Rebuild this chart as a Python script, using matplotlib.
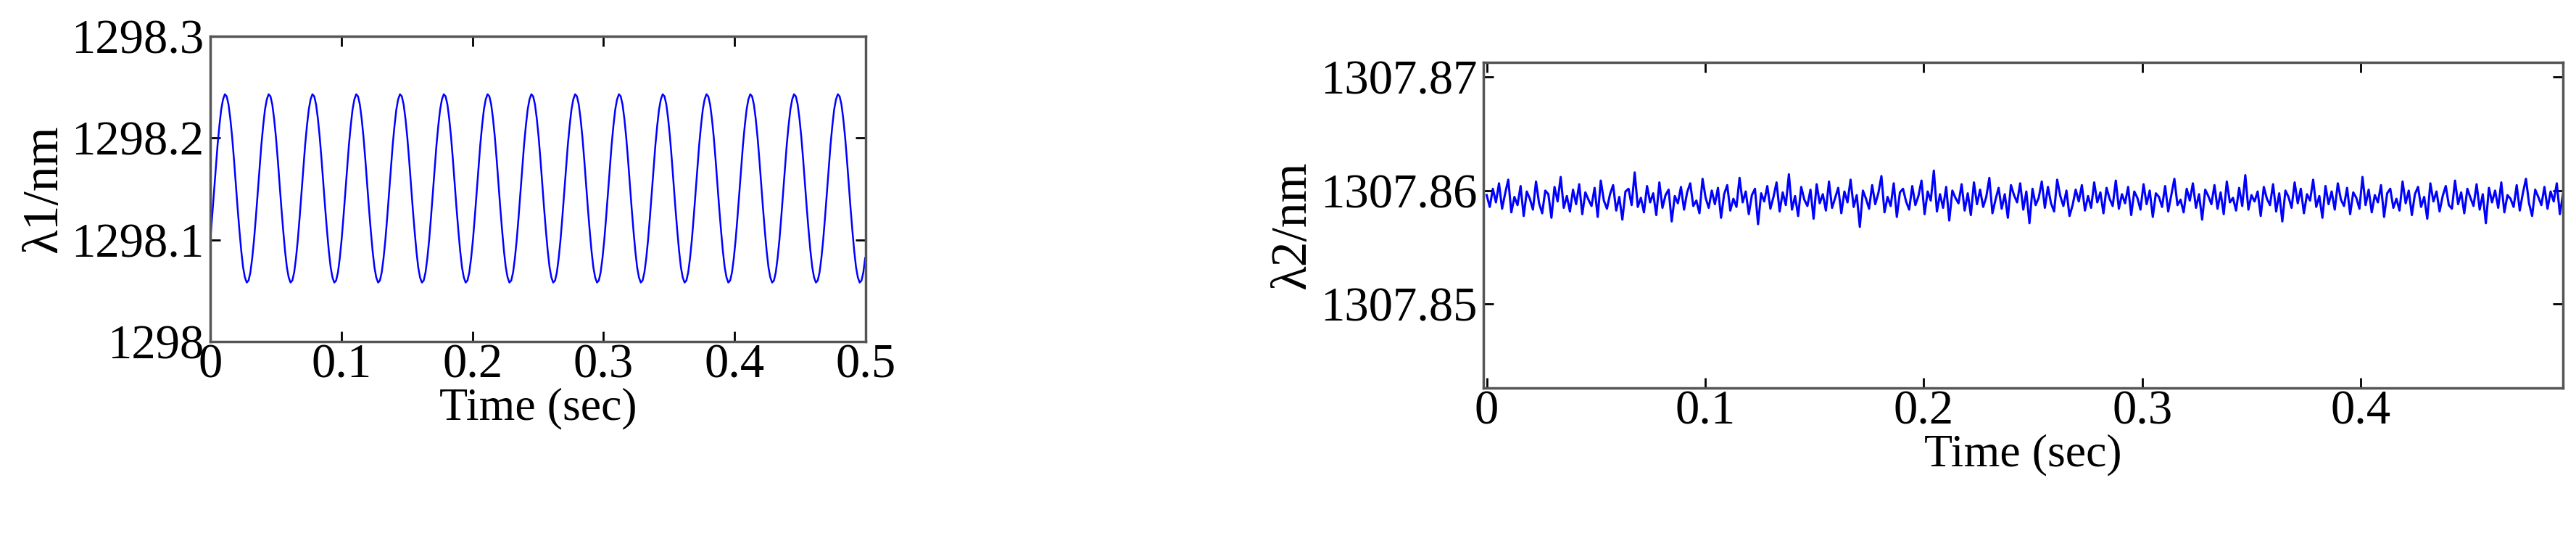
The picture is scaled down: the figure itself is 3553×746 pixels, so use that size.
import numpy as np
import matplotlib.pyplot as plt

plt.rcParams['font.family'] = ['Liberation Serif', 'DejaVu Serif']

# left panel: one cycle of lambda1 (24 samples per period), repeated
CYCLE_PERIOD = 0.0334   # sec
N_CYCLES = 15
lam1_cycle = [1298.100, 1298.122, 1298.146, 1298.170, 1298.193, 1298.212,
              1298.228, 1298.238, 1298.243, 1298.241, 1298.233, 1298.219,
              1298.201, 1298.179, 1298.155, 1298.131, 1298.109, 1298.089,
              1298.073, 1298.063, 1298.058, 1298.060, 1298.068, 1298.082]

# right panel: lambda2 fluctuations, in units of 1e-4 nm around the base level
LAM2_BASE = 1307.8592
lam2_dev = [5, -8, 12, -3, 18, -10, 7, 22, -14, 3, -6, 15, -18, 9, 1, -11, 20, -4,
            -15, 10, 6, -20, 14, -2, 25, -9, 4, -13, 11, -5, 17, -16, 8, 0, -7, 13,
            -19, 21, -1, -10, 6, 16, -12, 3, -22, 9, 12, -6, 30, -8, 2, -14, 15, -3,
            7, -17, 19, -9, 5, 11, -24, 4, -4, 14, -11, 8, 18, -7, -1, -15, 23, 2,
            -9, 10, -5, 13, -20, 6, 16, -12, 1, -8, 24, -3, 9, -16, 5, 12, -27, 7,
            -2, 15, -10, 3, 19, -13, 8, -6, 28, -11, 4, -18, 14, 0, -7, 11, -21, 17,
            -4, 6, -12, 20, -9, 2, 13, -15, 9, -3, 22, -8, 5, -30, 10, 1, -10, 16,
            -5, 7, 26, -14, 3, -7, 18, -19, 8, 12, -2, -11, 15, -6, 4, 21, -16, 9,
            -1, 32, -13, 6, -9, 14, -23, 10, 2, -4, 17, -12, 7, -17, 19, -5, 11, -8,
            3, 24, -15, 0, 13, -10, 6, -20, 16, 5, -3, 18, -11, 9, -26, 12, -6, 2,
            20, -9, 14, -4, -13, 22, 4, -7, 10, -18,
            -6, 11, -2, 16, -12, 4, -9, 19, -3, 8, -15, 13, 1, -7, 21, -10, 6, -4,
            14, -17, 9, 2, -11, 17, -5, 10, -19, 7, 3, -8, 15, -13, 5, 23, -6, 0,
            -14, 12, -1, 18, -9, 6, -22, 11, 4, -5, 16, -10, 8, -16, 20, -3, 2, -12,
            13, -7, 27, -11, 5, -2, 9, -18, 14, 1, -6, 17, -13, 7, -24, 10, 3, -9,
            19, -4, 12, -15, 6, -1, 22, -8, 4, -20, 15, -5, 9, -11, 18, 0, -7, 13,
            -16, 8, 2, -10, 25, -6, 11, -14, 5, -3, 16, -19, 7, 12, -9, 1, -12, 20,
            -4, 10, -17, 6, 14, -8, 3, -21, 18, -2, 9, -13, 4, 15, -6, -10, 21, -5,
            8, -15, 12, 2, -7, 17, -11, 6, -26, 13, -3, 10, -9, 19, -14, 5, 1, -8,
            16, -12, 7, 23, -4, -18, 11, 3, -6, 14, -10, 9, -2, 18, -16, 6]

t1 = np.arange(len(lam1_cycle) * N_CYCLES) * CYCLE_PERIOD / len(lam1_cycle)
lam1 = np.tile(lam1_cycle, N_CYCLES)
t2 = np.linspace(0, 0.4925, len(lam2_dev))
lam2 = LAM2_BASE + np.array(lam2_dev) * 0.8e-4

fig = plt.figure(figsize=(35.53, 7.46), dpi=100)
ax1 = fig.add_axes([290 / 3553, 1 - 471 / 746, 904 / 3553, 421 / 746])
ax2 = fig.add_axes([2046 / 3553, 1 - 535 / 746, 1489 / 3553, 449 / 746])

ax1.plot(t1, lam1, color='#0000ff', linewidth=1.8)
ax1.set_xlim(0, 0.5)
ax1.set_ylim(1298, 1298.3)
ax1.set_xticks([0, 0.1, 0.2, 0.3, 0.4, 0.5])
ax1.set_xticklabels(['0', '0.1', '0.2', '0.3', '0.4', '0.5'])
ax1.set_yticks([1298, 1298.1, 1298.2, 1298.3])
ax1.set_yticklabels(['1298', '1298.1', '1298.2', '1298.3'])
ax1.set_xlabel('Time (sec)', fontsize=46, labelpad=0)
ax1.set_ylabel('λ1/nm', fontsize=50, labelpad=4)

ax2.plot(t2, lam2, color='#0000ff', linewidth=2.2)
ax2.set_xlim(-0.0015, 0.4925)
ax2.set_ylim(1307.8426, 1307.8713)
ax2.set_xticks([0, 0.1, 0.2, 0.3, 0.4])
ax2.set_xticklabels(['0', '0.1', '0.2', '0.3', '0.4'])
ax2.set_yticks([1307.85, 1307.86, 1307.87])
ax2.set_yticklabels(['1307.85', '1307.86', '1307.87'])
ax2.set_xlabel('Time (sec)', fontsize=46, labelpad=0)
ax2.set_ylabel('λ2/nm', fontsize=50, labelpad=4)

for ax in (ax1, ax2):
    ax.tick_params(direction='in', top=True, right=True, length=10, width=2,
                   labelsize=48, colors='black', pad=6)
    ax.tick_params(axis='x', pad=2)
    for s in ax.spines.values():
        s.set_color('#555555')
        s.set_linewidth(2.5)

fig.savefig('out.png', dpi=100)
